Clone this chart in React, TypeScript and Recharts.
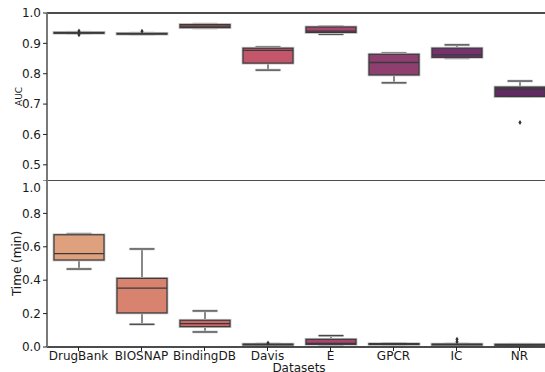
import React from 'react';
import { ComposedChart, Bar, XAxis, YAxis, ReferenceLine } from 'recharts';

const datasets = ['DrugBank', 'BIOSNAP', 'BindingDB', 'Davis', 'E', 'GPCR', 'IC', 'NR'];
const boxColors = ['#dfa07e', '#d78370', '#cd6667', '#c4566b', '#a9456f', '#8e3f70', '#76316f', '#5f2b61'];

// AUC per dataset (box stats)
const aucMin = [0.933, 0.930, 0.950, 0.812, 0.930, 0.770, 0.851, 0.725];
const aucQ1 = [0.934, 0.931, 0.952, 0.835, 0.936, 0.796, 0.854, 0.725];
const aucMed = [0.935, 0.932, 0.957, 0.877, 0.940, 0.837, 0.862, 0.749];
const aucQ3 = [0.936, 0.933, 0.962, 0.884, 0.954, 0.864, 0.884, 0.756];
const aucMax = [0.937, 0.934, 0.964, 0.888, 0.956, 0.868, 0.895, 0.776];
const aucOutliers = [[0.941, 0.928], [0.94], [], [], [], [], [], [0.639]];

// Time (min) per dataset
const timeMin = [0.467, 0.136, 0.09, 0.012, 0.012, 0.014, 0.013, 0.01];
const timeQ1 = [0.521, 0.204, 0.122, 0.014, 0.016, 0.016, 0.015, 0.011];
const timeMed = [0.559, 0.353, 0.14, 0.016, 0.022, 0.018, 0.016, 0.013];
const timeQ3 = [0.672, 0.411, 0.16, 0.017, 0.046, 0.02, 0.017, 0.016];
const timeMax = [0.678, 0.587, 0.216, 0.019, 0.068, 0.022, 0.019, 0.017];
const timeOutliers = [[], [], [], [0.024], [], [], [0.046, 0.032], []];

const aucTicks = [0.5, 0.6, 0.7, 0.8, 0.9, 1.0];
const timeTicks = [0, 0.2, 0.4, 0.6, 0.8, 1.0];

const FONT = 'DejaVu Sans, sans-serif';

const buildRows = (
  mins: number[], q1s: number[], meds: number[], q3s: number[], maxs: number[], outs: number[][]
) =>
  datasets.map((name, i) => ({
    name,
    min: mins[i],
    q1: q1s[i],
    med: meds[i],
    q3: q3s[i],
    max: maxs[i],
    outliers: outs[i],
    color: boxColors[i],
  }));

const aucRows = buildRows(aucMin, aucQ1, aucMed, aucQ3, aucMax, aucOutliers);
const timeRows = buildRows(timeMin, timeQ1, timeMed, timeQ3, timeMax, timeOutliers);

// the bar spans min..max, so its pixel box gives the value->pixel mapping
const BoxShape = (props: any) => {
  const { x, y, width, height, payload } = props;
  if (!payload) return null;
  const { min, q1, med, q3, max, outliers, color } = payload;
  const top = Math.min(y, y + height);
  const bottom = Math.max(y, y + height);
  const span = max - min || 1;
  const toY = (v: number) => top + ((max - v) / span) * (bottom - top);
  const cx = x + width / 2;
  const capW = width / 4;
  const edge = '#3a3a3a';
  const halo = '#c4c4c4';
  const boxTop = toY(q3);
  const boxH = Math.max(toY(q1) - boxTop, 0.8);
  return (
    <g>
      <line x1={cx} x2={cx} y1={toY(max)} y2={boxTop} stroke={edge} strokeWidth={1.2} />
      <line x1={cx} x2={cx} y1={boxTop + boxH} y2={toY(min)} stroke={edge} strokeWidth={1.2} />
      <line x1={cx - capW} x2={cx + capW} y1={toY(max)} y2={toY(max)} stroke={halo} strokeWidth={2.6} />
      <line x1={cx - capW} x2={cx + capW} y1={toY(max)} y2={toY(max)} stroke={edge} strokeWidth={1.1} />
      <line x1={cx - capW} x2={cx + capW} y1={toY(min)} y2={toY(min)} stroke={halo} strokeWidth={2.6} />
      <line x1={cx - capW} x2={cx + capW} y1={toY(min)} y2={toY(min)} stroke={edge} strokeWidth={1.1} />
      <rect x={x} y={boxTop} width={width} height={boxH} fill="none" stroke={halo} strokeWidth={2.8} />
      <rect x={x} y={boxTop} width={width} height={boxH} fill={color} stroke={edge} strokeWidth={1.2} />
      <line x1={x} x2={x + width} y1={toY(med)} y2={toY(med)} stroke={edge} strokeWidth={1.3} />
      {outliers.map((v: number, k: number) => {
        const oy = toY(v);
        return (
          <path
            key={k}
            d={`M${cx},${oy - 2.5} L${cx + 1.6},${oy} L${cx},${oy + 2.5} L${cx - 1.6},${oy} Z`}
            fill="#333"
          />
        );
      })}
    </g>
  );
};

const tickStyle = { fontSize: 12, fill: '#1a1a1a', fontFamily: FONT };

const App: React.FC = () => {
  return (
    <div style={{ position: 'absolute', left: 0, top: 0, width: 545, height: 372, overflow: 'hidden', background: '#fff' }}>
      <div style={{ position: 'absolute', left: 0, top: 0 }}>
        <ComposedChart width={551} height={180} data={aucRows} margin={{ top: 13, right: 0, left: 0, bottom: 0 }}>
          <XAxis dataKey="name" hide />
          <YAxis
            width={47}
            domain={[0.45, 1]}
            ticks={aucTicks}
            allowDataOverflow
            tickFormatter={(v: number) => v.toFixed(1)}
            tick={tickStyle}
            tickSize={4}
            tickMargin={2}
            tickLine={{ stroke: '#222' }}
            axisLine={{ stroke: '#7a7a7a', strokeWidth: 2 }}
            label={{
              content: (p: any) => {
                const vb = p.viewBox;
                const lx = vb.x + 19;
                const ly = vb.y + vb.height / 2;
                return (
                  <text x={lx} y={ly} transform={`rotate(-90 ${lx} ${ly})`} textAnchor="middle" dominantBaseline="central" fontSize={9} fontFamily={FONT} fill="#1a1a1a">
                    AUC
                  </text>
                );
              },
            }}
          />
          <ReferenceLine y={1} stroke="#111" strokeWidth={1.5} />
          <Bar dataKey={(d: any) => [d.min, d.max]} barSize={50} shape={<BoxShape />} isAnimationActive={false} />
        </ComposedChart>
      </div>
      <div style={{ position: 'absolute', left: 0, top: 180 }}>
        <ComposedChart width={551} height={200} data={timeRows} margin={{ top: 0, right: 0, left: 0, bottom: 0 }}>
          <XAxis
            dataKey="name"
            height={33}
            tick={tickStyle}
            tickSize={4}
            tickMargin={0}
            tickLine={{ stroke: '#222' }}
            axisLine={{ stroke: '#111', strokeWidth: 1.5 }}
            interval={0}
            label={{ value: 'Datasets', position: 'insideBottom', offset: 8.5, style: { fontSize: 12, fontFamily: FONT, fill: '#1a1a1a' } }}
          />
          <YAxis
            width={47}
            domain={[0, 1]}
            ticks={timeTicks}
            allowDataOverflow
            tickFormatter={(v: number) => v.toFixed(1)}
            tick={tickStyle}
            tickSize={4}
            tickMargin={2}
            tickLine={{ stroke: '#222' }}
            axisLine={{ stroke: '#7a7a7a', strokeWidth: 2 }}
            label={{
              content: (p: any) => {
                const vb = p.viewBox;
                const lx = vb.x + 17;
                const ly = vb.y + vb.height / 2;
                return (
                  <text x={lx} y={ly} transform={`rotate(-90 ${lx} ${ly})`} textAnchor="middle" dominantBaseline="central" fontSize={12} fontFamily={FONT} fill="#1a1a1a">
                    Time (min)
                  </text>
                );
              },
            }}
          />
          <ReferenceLine y={1} stroke="#111" strokeWidth={1.5} />
          <Bar dataKey={(d: any) => [d.min, d.max]} barSize={50} shape={<BoxShape />} isAnimationActive={false} />
        </ComposedChart>
      </div>
    </div>
  );
};

export default App;
